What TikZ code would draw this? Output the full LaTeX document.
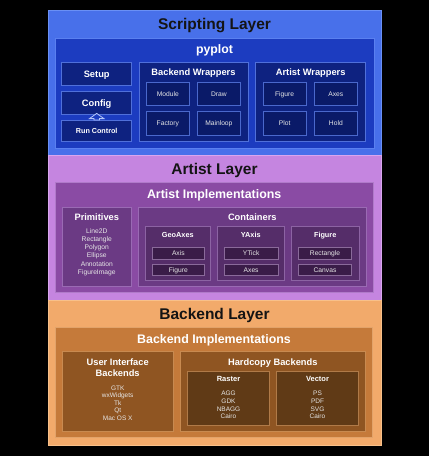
\documentclass[tikz,border=0pt]{standalone}
\usepackage{fontspec}
\setmainfont{Liberation Sans}
\usetikzlibrary{calc}
\definecolor{sLay}{HTML}{4870EA}\definecolor{sLayB}{HTML}{6A90F5}
\definecolor{sPy}{HTML}{1C3CC0}\definecolor{sPyB}{HTML}{5A80F0}
\definecolor{sMid}{HTML}{0E2280}\definecolor{sMidB}{HTML}{5070DA}
\definecolor{sIn}{HTML}{0A1A68}\definecolor{sInB}{HTML}{4A68CC}
\definecolor{aLay}{HTML}{C585E0}\definecolor{aLayB}{HTML}{D9A6EE}
\definecolor{aImp}{HTML}{8A4BA4}\definecolor{aImpB}{HTML}{B07ACA}
\definecolor{aMid}{HTML}{6B3A84}\definecolor{aMidB}{HTML}{9A6AB4}
\definecolor{aSub}{HTML}{552D69}\definecolor{aSubB}{HTML}{8C63A3}
\definecolor{aIn}{HTML}{3A1C48}\definecolor{aInB}{HTML}{8A6A9A}
\definecolor{bLay}{HTML}{F2AA6B}\definecolor{bLayB}{HTML}{F8C08A}
\definecolor{bImp}{HTML}{C57A3A}\definecolor{bImpB}{HTML}{E2A36A}
\definecolor{bMid}{HTML}{8F5522}\definecolor{bMidB}{HTML}{C88A50}
\definecolor{bIn}{HTML}{603A16}\definecolor{bInB}{HTML}{B07A48}
\definecolor{itemc}{HTML}{E6E6E6}
\newcommand{\bx}[6]{\node[#6, minimum width={(#4)-(#2)}, minimum height={(#5)-(#3)}] (#1) at ({((#2)+(#4))/2},{((#3)+(#5))/2}) {};}
\begin{document}
\begin{tikzpicture}[x=1pt,y=-1pt,
  every node/.style={inner sep=0pt, outer sep=0pt},
  bxs/.style 2 args={draw=#2, fill=#1, line width=0.6pt, rectangle},
  lay/.style={font=\bfseries\fontsize{15.5}{18}\selectfont, text=black!92, text height=11.1pt, text depth=0pt},
  big/.style={font=\bfseries\fontsize{12.4}{15}\selectfont, text=white, text height=8.9pt, text depth=0pt},
  mid/.style={font=\bfseries\fontsize{9.3}{11}\selectfont, text=white, text height=6.7pt, text depth=0pt},
  sml/.style={font=\bfseries\fontsize{7.3}{9}\selectfont, text=white, text height=5.2pt, text depth=0pt},
  itm/.style={font=\fontsize{6.7}{8}\selectfont, text=itemc, align=center},
  itm1/.style={font=\fontsize{6.7}{8}\selectfont, text=itemc, text height=4.8pt, text depth=0pt}]
\fill[black] (0,0) rectangle (429,456);
\useasboundingbox (0,0) rectangle (429,456);
% ---------------- Scripting layer
\bx{slay}{48}{10}{381}{155}{bxs={sLay}{sLayB}}
\node[lay] (tslay) at (214.5,24) {Scripting Layer};
\bx{py}{55}{38}{374}{148}{bxs={sPy}{sPyB}}
\node[font=\bfseries\fontsize{12.3}{15}\selectfont, text=white, text height=8.8pt, text depth=0pt] (tpy) at (214.5,49.5) {pyplot};
\bx{setup}{61.7}{62.7}{131.7}{85}{bxs={sMid}{sMidB}}
\node[mid] at (setup) {Setup};
\bx{config}{61.7}{91.7}{131.7}{114}{bxs={sMid}{sMidB}}
\node[mid] at (config) {Config};
\bx{run}{61.7}{120}{131.7}{141}{bxs={sMid}{sMidB}}
\node[font=\bfseries\fontsize{7.2}{9}\selectfont, text=white, text height=5.2pt, text depth=0pt] at (run) {Run Control};
\draw[draw=white!55!sPyB, fill=sPy, line width=0.8pt, line join=miter]
  ($(config.south)+(0,-0.6)$) -- ++(7.2,5.2) -- ++(-4.5,0) -- (run.north -| {$(config.south)+(2.7,0)$}) -- (run.north -| {$(config.south)+(-2.7,0)$}) -- ++(0,-1.4) -- ++(-4.5,0) -- cycle;
\bx{bw}{139}{62.7}{248}{141}{bxs={sMid}{sMidB}}
\node[mid] (tbw) at (193.5,72) {Backend Wrappers};
\bx{module}{146}{82.7}{189.7}{105.7}{bxs={sIn}{sInB}}
\node[itm1] at (module) {Module};
\bx{draw}{197}{82.7}{240.7}{105.7}{bxs={sIn}{sInB}}
\node[itm1] at (draw) {Draw};
\bx{factory}{146}{111.7}{189.7}{135}{bxs={sIn}{sInB}}
\node[itm1] at (factory) {Factory};
\bx{mainloop}{197}{111.7}{240.7}{135}{bxs={sIn}{sInB}}
\node[itm1] at (mainloop) {Mainloop};
\bx{aw}{255.7}{62.7}{365.7}{141}{bxs={sMid}{sMidB}}
\node[mid] (taw) at (310.7,72) {Artist Wrappers};
\bx{wfig}{263}{82.7}{306.3}{105.7}{bxs={sIn}{sInB}}
\node[itm1] at (wfig) {Figure};
\bx{waxes}{314}{82.7}{357.7}{105.7}{bxs={sIn}{sInB}}
\node[itm1] at (waxes) {Axes};
\bx{wplot}{263}{111.7}{306.3}{135}{bxs={sIn}{sInB}}
\node[itm1] at (wplot) {Plot};
\bx{whold}{314}{111.7}{357.7}{135}{bxs={sIn}{sInB}}
\node[itm1] at (whold) {Hold};
% ---------------- Artist layer
\bx{alay}{48}{155}{381}{300}{bxs={aLay}{aLayB}}
\node[lay] (talay) at (214.5,169.3) {Artist Layer};
\bx{aimp}{55}{182.7}{373.3}{292.7}{bxs={aImp}{aImpB}}
\node[big] (taimp) at (214.2,194) {Artist Implementations};
\bx{prim}{62}{207.3}{131.7}{286.7}{bxs={aMid}{aMidB}}
\node[mid] (tprim) at (96.8,216.7) {Primitives};
\node[itm, font=\fontsize{6.7}{8.25}\selectfont] (primitems) at (96.8,252) {Line2D\\Rectangle\\Polygon\\Ellipse\\Annotation\\FigureImage};
\bx{cont}{138.7}{207.3}{366}{286.7}{bxs={aMid}{aMidB}}
\node[mid] (tcont) at (252.3,216.7) {Containers};
\bx{geo}{145}{226.7}{210.7}{280}{bxs={aSub}{aSubB}}
\node[sml] (tgeo) at (177.8,235) {GeoAxes};
\bx{gaxis}{152.7}{247.3}{204}{259}{bxs={aIn}{aInB}}
\node[itm1] at (gaxis) {Axis};
\bx{gfig}{152.7}{264.3}{204}{275.7}{bxs={aIn}{aInB}}
\node[itm1] at (gfig) {Figure};
\bx{yax}{217}{226.7}{284.7}{280}{bxs={aSub}{aSubB}}
\node[sml] (tyax) at (250.8,235) {YAxis};
\bx{ytick}{224}{247.3}{278.3}{259}{bxs={aIn}{aInB}}
\node[itm1] at (ytick) {YTick};
\bx{yaxes}{224}{264.3}{278.3}{275.7}{bxs={aIn}{aInB}}
\node[itm1] at (yaxes) {Axes};
\bx{fig}{291.3}{226.7}{359}{280}{bxs={aSub}{aSubB}}
\node[sml] (tfig) at (325.2,235) {Figure};
\bx{frect}{298.3}{247.3}{351.7}{259}{bxs={aIn}{aInB}}
\node[itm1] at (frect) {Rectangle};
\bx{fcanv}{298.3}{264.3}{351.7}{275.7}{bxs={aIn}{aInB}}
\node[itm1] at (fcanv) {Canvas};
% ---------------- Backend layer
\bx{blay}{48}{300}{381}{445}{bxs={bLay}{bLayB}}
\node[lay] (tblay) at (214.5,314) {Backend Layer};
\bx{bimp}{55.7}{327.7}{372.3}{437.3}{bxs={bImp}{bImpB}}
\node[big] (tbimp) at (214,339.3) {Backend Implementations};
\bx{ui}{62}{351.7}{173.3}{431.7}{bxs={bMid}{bMidB}}
\node[align=center, font=\bfseries\fontsize{9.3}{11}\selectfont, text=white] (tui) at (117.7,368) {User Interface\\Backends};
\node[itm, font=\fontsize{6.5}{7.4}\selectfont] (uiitems) at (117.7,403) {GTK\\wxWidgets\\Tk\\Qt\\Mac OS X};
\bx{hc}{180}{351.7}{365.7}{431.7}{bxs={bMid}{bMidB}}
\node[mid] (thc) at (272.8,361.7) {Hardcopy Backends};
\bx{raster}{187.3}{371}{269.7}{425.7}{bxs={bIn}{bInB}}
\node[sml, font=\bfseries\fontsize{7.5}{9}\selectfont] (traster) at (228.5,379.3) {Raster};
\node[itm, font=\fontsize{6.5}{7.6}\selectfont] (rasteritems) at (228.5,405) {AGG\\GDK\\NBAGG\\Cairo};
\bx{vector}{276.7}{371}{358.3}{425.7}{bxs={bIn}{bInB}}
\node[sml, font=\bfseries\fontsize{7.5}{9}\selectfont] (tvector) at (317.5,379.3) {Vector};
\node[itm, font=\fontsize{6.5}{7.6}\selectfont] (vectoritems) at (317.5,405) {PS\\PDF\\SVG\\Cairo};
\end{tikzpicture}
\end{document}
